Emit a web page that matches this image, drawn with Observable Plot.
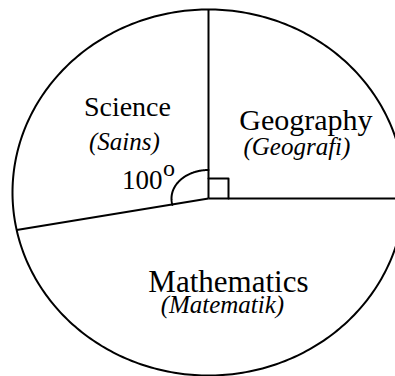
<!DOCTYPE html>
<html>
<head>
<meta charset="utf-8">
<script src="https://cdn.jsdelivr.net/npm/d3@7"></script>
<script src="https://cdn.jsdelivr.net/npm/@observablehq/plot@0.6"></script>
<style>
  html, body { margin: 0; padding: 0; background: #fff; overflow: hidden; }
</style>
</head>
<body>
<div id="chart"></div>
<script>
// Subjects, clockwise from 12 o'clock, with the angle of each sector in degrees
const subjects = ["Geography", "Mathematics", "Science"];
const subjectsMalay = ["Geografi", "Matematik", "Sains"];
const angles = [90, 170, 100];
// The sector whose angle is written next to its arc
const labelledSubject = "Science";

// ---- layout ----
const W = 395, H = 376;
const cx = 208, cy = 192, rx = 196, ry = 183;   // pie outline: centre and pixel radii
const hub = [0, -6 / ry];                         // the common vertex of the sectors
const ink = "#000";
const serif = "Liberation Serif, Times New Roman, serif";
// per-subject label style: English font size and pixel nudges [dx, dy, dxMalay, dyMalay]
const labelStyle = {
  Science:     {size: 28, nudge: [6, -8, 3, 26]},
  Geography:   {size: 30, nudge: [17, 13, 8, 38]},
  Mathematics: {size: 31, nudge: [10, -6, 4, 15]}
};

const rad = (d) => d * Math.PI / 180;

// Sector boundaries (mathematical angles, degrees), going clockwise from the top
let cum = 0;
const sectors = subjects.map((subject, i) => {
  const a0 = 90 - cum;
  cum += angles[i];
  const a1 = 90 - cum;
  return {subject, malay: subjectsMalay[i], value: angles[i], a0, a1, mid: (a0 + a1) / 2};
});

// Point where the ray from the hub at angle a meets the outline
function rim(a) {
  const dx = Math.cos(rad(a)), dy = Math.sin(rad(a));
  const pd = hub[0] * dx + hub[1] * dy;
  const t = -pd + Math.sqrt(pd * pd + 1 - hub[0] ** 2 - hub[1] ** 2);
  return [hub[0] + t * dx, hub[1] + t * dy];
}
// Offset of s pixels along angle a, in data units
const step = (a, s) => [s / rx * Math.cos(rad(a)), s / ry * Math.sin(rad(a))];

// Outline
const outline = d3.range(0, 361, 1).map((a) => ({x: Math.cos(rad(a)), y: Math.sin(rad(a))}));

// Spokes (one per sector boundary)
const spokes = sectors.map((s) => {
  const [ex, ey] = rim(s.a0);
  return {x1: hub[0], y1: hub[1], x2: ex, y2: ey};
});

// Angle arc for the labelled sector
const marked = sectors.find((s) => s.subject === labelledSubject);
const arcR = [37, 28.5];
const arc = d3.range(0, 101).map((k) => {
  const a = marked.a1 + (marked.a0 - marked.a1) * k / 100;
  const c = Math.cos(rad(a)), s = Math.sin(rad(a));
  const r = 1 / Math.sqrt((c / arcR[0]) ** 2 + (s / arcR[1]) ** 2);
  const [ox, oy] = step(a, r);
  return {x: hub[0] + ox, y: hub[1] + oy};
});

// Right-angle box for any 90-degree sector
const boxes = sectors.filter((s) => s.value === 90).map((s) => {
  const u = step(s.a0, 20), v = step(s.a1, 20);
  return [
    {x: hub[0] + u[0], y: hub[1] + u[1]},
    {x: hub[0] + u[0] + v[0], y: hub[1] + u[1] + v[1]},
    {x: hub[0] + v[0], y: hub[1] + v[1]}
  ];
});

// Name labels, anchored on each sector's bisector
const labelMarks = sectors.flatMap((s) => {
  const st = labelStyle[s.subject];
  const pos = [{x: 0.58 * Math.cos(rad(s.mid)), y: 0.58 * Math.sin(rad(s.mid)), en: s.subject, ms: `(${s.malay})`}];
  return [
    Plot.text(pos, {x: "x", y: "y", text: "en", dx: st.nudge[0], dy: st.nudge[1],
      fontSize: st.size, fontFamily: serif, fill: ink, textAnchor: "middle", lineAnchor: "bottom"}),
    Plot.text(pos, {x: "x", y: "y", text: "ms", dx: st.nudge[2], dy: st.nudge[3],
      fontSize: 25, fontFamily: serif, fontStyle: "italic", fill: ink, textAnchor: "middle", lineAnchor: "bottom"})
  ];
});

// Angle value with a raised "o" as the degree sign
const degree = [{x: hub[0], y: hub[1], v: String(marked.value)}];

const chart = Plot.plot({
  width: W,
  height: H,
  margin: 0,
  x: {domain: [-cx / rx, (W - cx) / rx], range: [0, W], axis: null},
  y: {domain: [(cy - H) / ry, cy / ry], range: [H, 0], axis: null},
  style: {background: "#fff"},
  marks: [
    Plot.line(outline, {x: "x", y: "y", stroke: ink, strokeWidth: 2, clip: true}),
    Plot.link(spokes, {x1: "x1", y1: "y1", x2: "x2", y2: "y2", stroke: ink, strokeWidth: 2, clip: true}),
    Plot.line(arc, {x: "x", y: "y", stroke: ink, strokeWidth: 2}),
    ...boxes.map((b) => Plot.line(b, {x: "x", y: "y", stroke: ink, strokeWidth: 2, strokeLinejoin: "round", curve: "linear"})),
    ...labelMarks,
    Plot.text(degree, {x: "x", y: "y", text: "v", dx: -46, dy: -10, fontSize: 27, fontFamily: serif,
      fill: ink, textAnchor: "end", lineAnchor: "bottom"}),
    Plot.text(degree, {x: "x", y: "y", text: () => "o", dx: -45.5, dy: -22.5, fontSize: 24, fontFamily: serif,
      fill: ink, textAnchor: "start", lineAnchor: "bottom"})
  ]
});
document.getElementById("chart").appendChild(chart);
</script>
</body>
</html>
